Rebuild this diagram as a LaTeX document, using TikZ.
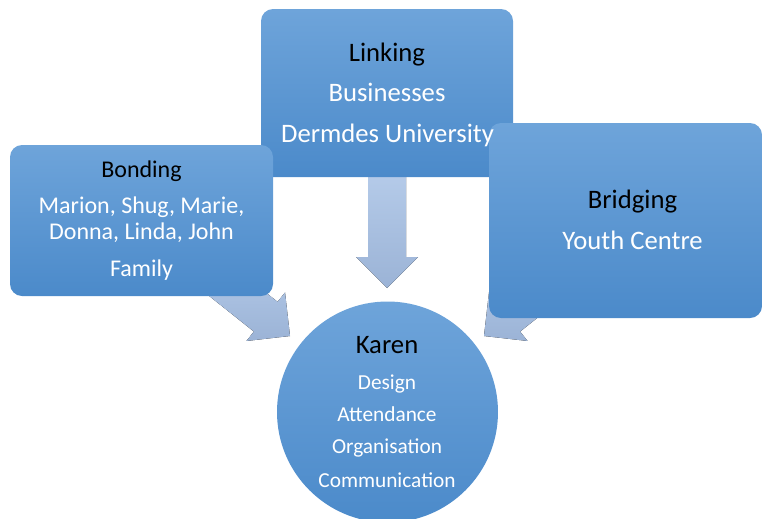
\documentclass[tikz,border=0pt]{standalone}
\usepackage{fontspec}
\setmainfont{Carlito}
\definecolor{boxtop}{HTML}{6EA4DA}
\definecolor{boxmid}{HTML}{5A9ADA}
\definecolor{boxbot}{HTML}{4B8ACA}
\definecolor{arrtop}{HTML}{B6CCEA}
\definecolor{arrbot}{HTML}{9BB3D6}
\tikzset{
  blockbox/.style={rectangle, rounded corners=9pt, top color=boxtop, middle color=boxmid, bottom color=boxbot, draw=none, inner sep=0pt},
  hubcircle/.style={circle, top color=boxtop, middle color=boxmid, bottom color=boxbot, draw=none, inner sep=0pt},
  blockarrow/.style={top color=arrtop, bottom color=arrbot, draw=none},
  titletext/.style={anchor=base, inner sep=0pt, text=black},
  itemtext/.style={anchor=base, inner sep=0pt, text=white},
}
\newcommand{\myarrow}[3]{% tip, rotation, length
  \fill[blockarrow, shift={(#1)}, rotate=#2] (0,0) -- (-31,31) -- (-31,19) -- (-#3,19) -- (-#3,-19) -- (-31,-19) -- (-31,-31) -- cycle;}
\begin{document}
\begin{tikzpicture}[x=0.75pt, y=-0.75pt]
\useasboundingbox (0,0) rectangle (763,518);
% arrow tips
\coordinate (tipT) at (387,288);
\coordinate (tipL) at (290,336);
\coordinate (tipR) at (484,336);
\myarrow{tipT}{-90}{120}
\myarrow{tipL}{-38.5}{110}
\myarrow{tipR}{-141.5}{110}
% boxes
\node[blockbox, minimum width=189pt, minimum height=126pt] (link) at (387,93) {};
\node[blockbox, minimum width=197.25pt, minimum height=113.25pt] (bond) at (141.5,220.5) {};
\node[blockbox, minimum width=204.75pt, minimum height=146.25pt] (bridge) at (625.5,220.5) {};
\node[hubcircle, minimum size=165.75pt] (karen) at (387.5,412) {};
% Linking text
\node[titletext, font=\fontsize{20}{24}\selectfont] (linkT) at (387,61) {Linking};
\node[itemtext, font=\fontsize{20}{24}\selectfont] (linkA) at (387,101) {Businesses};
\node[itemtext, font=\fontsize{20}{24}\selectfont] (linkB) at (387.5,142) {Dermdes University};
% Bonding text
\node[titletext, font=\fontsize{18}{22}\selectfont] (bondT) at (141.5,177) {Bonding};
\node[itemtext, font=\fontsize{18}{22}\selectfont] (bondA) at (141.5,213) {Marion, Shug, Marie,};
\node[itemtext, font=\fontsize{18}{22}\selectfont] (bondB) at (141.5,239) {Donna, Linda, John};
\node[itemtext, font=\fontsize{18}{22}\selectfont] (bondC) at (141.5,276) {Family};
% Bridging text
\node[titletext, font=\fontsize{20}{24}\selectfont] (bridgeT) at (632.5,208) {Bridging};
\node[itemtext, font=\fontsize{20}{24}\selectfont] (bridgeA) at (632.5,249) {Youth Centre};
% Karen text
\node[titletext, font=\fontsize{20}{24}\selectfont] (karenT) at (387,353) {Karen};
\node[itemtext, font=\fontsize{16}{19}\selectfont] (karenA) at (387,389) {Design};
\node[itemtext, font=\fontsize{16}{19}\selectfont] (karenB) at (387,421) {Attendance};
\node[itemtext, font=\fontsize{16}{19}\selectfont] (karenC) at (387,453) {Organisation};
\node[itemtext, font=\fontsize{16}{19}\selectfont] (karenD) at (387,487) {Communication};
\end{tikzpicture}
\end{document}
